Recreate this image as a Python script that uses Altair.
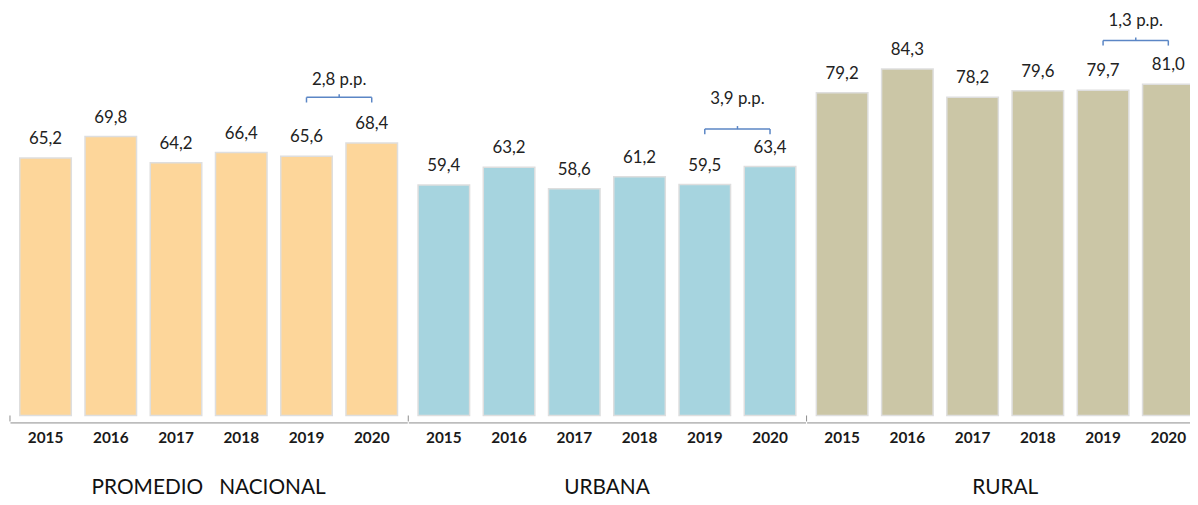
import altair as alt
import pandas as pd

# ---- data ----
groups = ["PROMEDIO\u00a0\u00a0 NACIONAL", "URBANA", "RURAL"]
years = ["2015", "2016", "2017", "2018", "2019", "2020"]
nacional = [65.2, 69.8, 64.2, 66.4, 65.6, 68.4]
urbana = [59.4, 63.2, 58.6, 61.2, 59.5, 63.4]
rural = [79.2, 84.3, 78.2, 79.6, 79.7, 81.0]
bracket_text = ["2,8 p.p.", "3,9 p.p.", "1,3 p.p."]
bracket_level = [78.2, 71.4, 90.4]
bracket_text_level = [80.9, 76.7, 93.5]
colors = ["#FDD69A", "#A6D4DF", "#CBC6A6"]

rows = []
for g, vals, bt, bl, tl in zip(groups, [nacional, urbana, rural], bracket_text,
                               bracket_level, bracket_text_level):
    for yr, v in zip(years, vals):
        rows.append(dict(group=g, year=yr, value=v, btext=bt, blevel=bl, tlevel=tl))
df = pd.DataFrame(rows)

W = 401
H = 409
FONT = "Lato"
BC = "#5B86C5"
YMIN, YMAX = 10, 96.87

yscale = alt.Scale(domain=[YMIN, YMAX], zero=False, nice=False)
xscale = alt.Scale(paddingInner=0.21, paddingOuter=0.15)
xaxis = alt.Axis(title=None, labelAngle=0, labelFont=FONT, labelFontWeight="bold",
                 labelFontSize=15.5, labelColor="#1a1a1a", ticks=False, tickSize=0,
                 labelPadding=8, domainColor="#8c8c8c", domainWidth=1)

def xpos():
    return alt.X("year:N", sort=years, scale=xscale, axis=xaxis, bandPosition=0.5)

bars = alt.Chart().mark_bar(stroke="#dedede", strokeWidth=1.5).encode(
    x=alt.X("year:N", sort=years, scale=xscale, axis=xaxis),
    y=alt.Y("value:Q", scale=yscale, axis=None),
    y2=alt.datum(YMIN),
    color=alt.Color("group:N", scale=alt.Scale(domain=groups, range=colors), legend=None),
)

labels = alt.Chart().transform_calculate(
    lbl="replace(format(datum.value, '.1f'), '.', ',')"
).mark_text(baseline="alphabetic", dy=-14, font=FONT, fontSize=17, color="#222222").encode(
    x=xpos(),
    y=alt.Y("value:Q", scale=yscale, axis=None),
    text="lbl:N",
)

br_h = alt.Chart().transform_filter("datum.year == '2019'").transform_calculate(
    x2v="'2020'"
).mark_rule(color=BC, strokeWidth=1.5).encode(
    x=xpos(),
    x2=alt.X2("x2v:N", bandPosition=0.5),
    y=alt.Y("blevel:Q", scale=yscale, axis=None),
)

br_ends = alt.Chart().transform_filter(
    "datum.year == '2019' || datum.year == '2020'"
).transform_calculate(bend="datum.blevel - 1.1").mark_rule(color=BC, strokeWidth=1.5).encode(
    x=xpos(),
    y=alt.Y("blevel:Q", scale=yscale, axis=None),
    y2="bend:Q",
)

br_mid = alt.Chart().transform_filter("datum.year == '2019'").transform_calculate(
    bmid="datum.blevel + 0.65"
).mark_rule(color=BC, strokeWidth=1.5, xOffset=33).encode(
    x=xpos(),
    y=alt.Y("blevel:Q", scale=yscale, axis=None),
    y2="bmid:Q",
)

br_txt = alt.Chart().transform_filter("datum.year == '2019'").mark_text(
    baseline="alphabetic", xOffset=33, font=FONT, fontSize=17, color="#222222"
).encode(
    x=xpos(),
    y=alt.Y("tlevel:Q", scale=yscale, axis=None),
    text="btext:N",
)

gtick = alt.Chart().transform_filter("datum.year == '2015'").mark_rule(
    color="#8c8c8c", strokeWidth=1
).encode(x=alt.value(0), y=alt.value(H), y2=alt.value(H + 6))

layered = alt.layer(bars, labels, br_h, br_ends, br_mid, br_txt, gtick, data=df).properties(
    width=W, height=H
)

chart = layered.facet(
    column=alt.Column(
        "group:N", sort=groups,
        header=alt.Header(title=None, labelOrient="bottom", labelFont=FONT,
                          labelFontSize=21, labelColor="#111111", labelPadding=32),
    ),
    spacing=0,
).properties(
    padding={"left": 1, "top": 0, "right": -14, "bottom": 0}
).configure_view(stroke=None)

chart.save("out.html", embed_options={"renderer": "svg", "actions": False})
